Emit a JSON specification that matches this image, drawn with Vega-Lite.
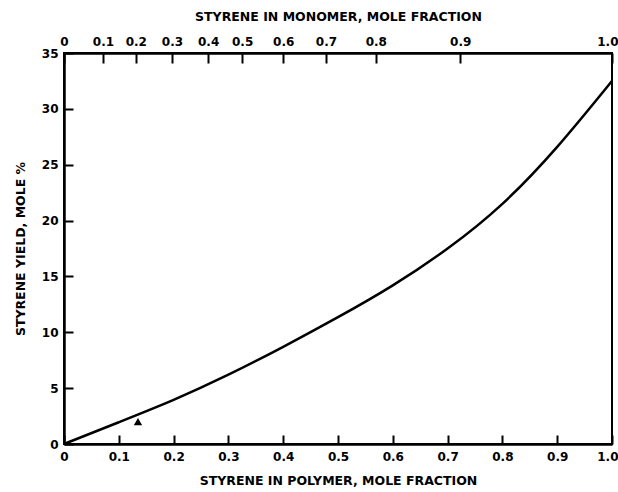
{
  "$schema": "https://vega.github.io/schema/vega-lite/v6.json",
  "width": 548,
  "height": 391,
  "autosize": {"type": "none"},
  "padding": {"left": 64, "top": 53, "right": 6, "bottom": 48},
  "background": "white",
  "config": {
    "view": {"stroke": "black", "strokeWidth": 2},
    "axis": {
      "grid": false,
      "domainColor": "black",
      "domainWidth": 2.5,
      "tickColor": "black",
      "tickWidth": 2,
      "labelColor": "black",
      "labelFont": "DejaVu Sans",
      "labelFontWeight": "bold",
      "labelFontSize": 12,
      "titleFont": "DejaVu Sans",
      "titleFontWeight": "bold",
      "titleFontSize": 12.5,
      "titleColor": "black"
    }
  },
  "datasets": {
    "curve": [
      {"polymer": 0, "yield": 0},
      {"polymer": 0.1, "yield": 1.95},
      {"polymer": 0.2, "yield": 3.95},
      {"polymer": 0.3, "yield": 6.2},
      {"polymer": 0.4, "yield": 8.7},
      {"polymer": 0.5, "yield": 11.35},
      {"polymer": 0.6, "yield": 14.2},
      {"polymer": 0.7, "yield": 17.5},
      {"polymer": 0.8, "yield": 21.5},
      {"polymer": 0.9, "yield": 26.6},
      {"polymer": 1.0, "yield": 32.5}
    ],
    "points": [
      {"polymer": 0.135, "yield": 2.0}
    ],
    "topticks": [
      {"polymer": 0, "monomer": "0"},
      {"polymer": 0.071, "monomer": "0.1"},
      {"polymer": 0.131, "monomer": "0.2"},
      {"polymer": 0.197, "monomer": "0.3"},
      {"polymer": 0.263, "monomer": "0.4"},
      {"polymer": 0.325, "monomer": "0.5"},
      {"polymer": 0.4, "monomer": "0.6"},
      {"polymer": 0.478, "monomer": "0.7"},
      {"polymer": 0.569, "monomer": "0.8"},
      {"polymer": 0.723, "monomer": "0.9"},
      {"polymer": 1.0, "monomer": "1.0"}
    ]
  },
  "layer": [
    {
      "layer": [
        {
          "data": {"name": "curve"},
          "mark": {"type": "line", "color": "black", "strokeWidth": 2.5, "interpolate": "natural"},
          "encoding": {
            "x": {
              "field": "polymer", "type": "quantitative",
              "scale": {"domain": [0, 1], "nice": false},
              "axis": {
                "orient": "bottom",
                "title": "STYRENE IN POLYMER, MOLE FRACTION",
                "values": [0, 0.1, 0.2, 0.3, 0.4, 0.5, 0.6, 0.7, 0.8, 0.9, 1.0],
                "labelExpr": "datum.value == 0 ? '0' : format(datum.value, '.1f')",
                "labelAlign": {"condition": {"test": "datum.value == 1", "value": "right"}, "value": "center"},
                "labelOffset": {"condition": {"test": "datum.value == 1", "value": 6}, "value": 0},
                "tickSize": -9,
                "labelPadding": 16,
                "titlePadding": 12,
                "labelFlush": false
              }
            },
            "y": {
              "field": "yield", "type": "quantitative",
              "scale": {"domain": [0, 35], "nice": false},
              "axis": {
                "title": "STYRENE YIELD, MOLE %",
                "values": [0, 5, 10, 15, 20, 25, 30, 35],
                "tickSize": -9,
                "labelPadding": 15,
                "titlePadding": 14,
                "labelFlush": false
              }
            }
          }
        },
        {
          "data": {"name": "points"},
          "mark": {"type": "point", "shape": "triangle-up", "filled": true, "color": "black", "size": 70, "opacity": 1},
          "encoding": {
            "x": {"field": "polymer", "type": "quantitative", "scale": {"domain": [0, 1], "nice": false}},
            "y": {"field": "yield", "type": "quantitative"}
          }
        }
      ]
    },
    {
      "data": {"name": "topticks"},
      "mark": {"type": "point", "opacity": 0},
      "encoding": {
        "x": {
          "field": "polymer", "type": "quantitative",
          "scale": {"domain": [0, 1], "nice": false},
          "axis": {
            "orient": "top",
            "title": "STYRENE IN MONOMER, MOLE FRACTION",
            "values": [0, 0.071, 0.131, 0.197, 0.263, 0.325, 0.4, 0.478, 0.569, 0.723, 1.0],
            "labelExpr": "['0','0.1','0.2','0.3','0.4','0.5','0.6','0.7','0.8','0.9','1.0'][indexof([0, 0.071, 0.131, 0.197, 0.263, 0.325, 0.4, 0.478, 0.569, 0.723, 1.0], datum.value)]",
            "labelAlign": {"condition": {"test": "datum.value == 1", "value": "right"}, "value": "center"},
            "labelOffset": {"condition": {"test": "datum.value == 1", "value": 6}, "value": 0},
            "tickSize": -10,
            "labelPadding": 15,
            "titlePadding": 12,
            "labelFlush": false
          }
        },
        "y": {"value": 0}
      }
    }
  ],
  "resolve": {"scale": {"x": "independent"}}
}
